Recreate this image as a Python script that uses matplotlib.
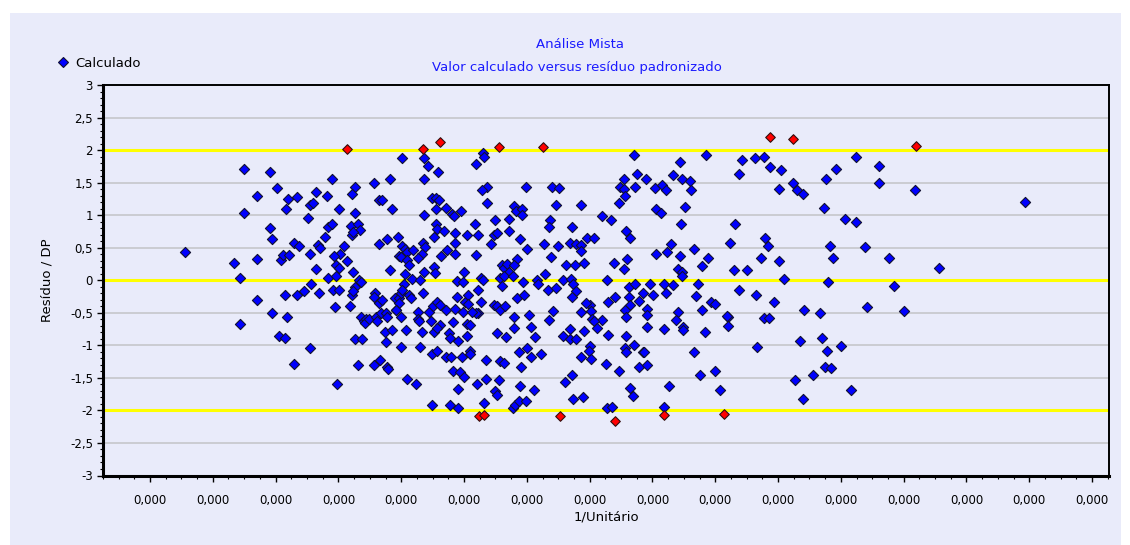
import numpy as np
import matplotlib
matplotlib.use("Agg")
import matplotlib.pyplot as plt
from matplotlib.lines import Line2D
from matplotlib.patches import Rectangle
from matplotlib.ticker import MultipleLocator, FuncFormatter

# 1/Unitário em unidades de 1e-5, resíduo padronizado
UNIDADE = 1e-5

pontos_a = [
    (1.56, 0.43), (2.34, 0.26), (2.44, 0.04), (2.44, -0.67), (2.49, 1.03), (2.50, 1.71),
    (2.70, 1.30), (2.70, 0.33), (2.70, -0.31), (2.91, 1.66), (2.91, 0.80), (2.95, 0.63),
    (2.95, -0.50), (3.02, 1.42), (3.06, -0.86), (3.09, 0.31), (3.11, 0.39), (3.15, -0.22),
    (3.15, -0.89), (3.17, 1.09), (3.18, -0.56), (3.19, 1.25), (3.21, 0.39), (3.30, 0.58),
    (3.30, -1.28), (3.34, 1.28), (3.34, -0.22), (3.37, 0.53), (3.45, -0.17), (3.51, 0.95),
    (3.54, -1.04), (3.55, 1.15), (3.55, 0.41), (3.56, -0.05), (3.60, 1.18), (3.64, 1.35),
    (3.64, 0.17), (3.68, 0.54), (3.69, -0.20), (3.71, 0.50), (3.79, 0.67), (3.82, 1.30),
    (3.84, 0.82), (3.84, 0.04),
]

pontos_b_sup = [
    (4.13, 2.02), (5.34, 2.01), (5.62, 2.12), (6.56, 2.05), (7.25, 2.05),
    (5.02, 1.88), (5.37, 1.88), (5.42, 1.76), (5.59, 1.66), (6.30, 1.96), (6.32, 1.90),
    (6.19, 1.78), (3.90, 1.55), (4.56, 1.49), (4.82, 1.55), (5.36, 1.55), (4.26, 1.44),
    (4.22, 1.32), (4.65, 1.24), (4.70, 1.24), (5.49, 1.26), (5.55, 1.26), (5.60, 1.23),
    (6.36, 1.44), (6.29, 1.38), (6.99, 1.44), (7.40, 1.44), (7.51, 1.42), (4.01, 1.09),
    (4.26, 1.04), (4.86, 1.09), (5.36, 1.01), (5.55, 1.09), (5.71, 1.11), (5.81, 1.02),
    (5.84, 0.98), (5.96, 1.06), (6.37, 1.19), (6.80, 1.14), (6.82, 1.06), (6.93, 1.10),
    (6.93, 1.00), (7.47, 1.15), (3.90, 0.87), (4.20, 0.84), (4.31, 0.87), (4.35, 0.77),
    (4.22, 0.70), (4.24, 0.74), (5.55, 0.86), (5.57, 0.78), (5.68, 0.75), (5.86, 0.72),
    (6.04, 0.70), (6.22, 0.70), (6.17, 0.87), (6.50, 0.92), (6.71, 0.94), (6.72, 0.75),
    (6.48, 0.70), (6.52, 0.73), (6.89, 0.63), (7.37, 0.92), (7.35, 0.82), (4.09, 0.53),
    (4.65, 0.56), (4.78, 0.63), (4.95, 0.66), (5.01, 0.52), (5.06, 0.48), (5.09, 0.43),
    (4.96, 0.37), (5.00, 0.36), (5.10, 0.31), (5.13, 0.24), (5.19, 0.47), (5.34, 0.58),
    (5.38, 0.51), (5.33, 0.41), (5.27, 0.34), (5.53, 0.66), (5.86, 0.58), (5.73, 0.46),
    (5.64, 0.37), (5.86, 0.41), (6.19, 0.39), (6.43, 0.56), (7.00, 0.48), (7.27, 0.56),
    (7.49, 0.53), (7.68, 0.58), (7.38, 0.36), (6.84, 0.32), (6.61, 0.23), (6.64, 0.19),
    (6.68, 0.25), (6.71, 0.13), (6.80, 0.23), (7.63, 0.24), (4.03, 0.41), (3.93, 0.37),
    (4.14, 0.29), (3.96, 0.24), (4.01, 0.19), (4.23, 0.13), (4.82, 0.15), (5.06, 0.09),
    (5.37, 0.13), (5.52, 0.20), (5.54, 0.11), (6.00, 0.13), (7.29, 0.10),
]

pontos_b_inf = [
    (3.96, 0.07), (3.91, -0.15), (4.01, -0.15), (3.95, -0.41), (4.18, -0.40), (4.27, -0.11),
    (4.22, -0.22), (4.24, -0.16), (4.33, 0.01), (4.36, -0.02), (4.58, -0.20), (4.57, -0.26),
    (4.65, -0.35), (4.70, -0.30), (4.90, -0.27), (4.97, -0.28), (5.00, -0.20), (4.97, -0.35),
    (4.92, -0.45), (5.04, -0.05), (5.01, -0.15), (5.17, 0.02), (5.30, 0.00), (5.35, -0.20),
    (5.12, -0.23), (5.16, -0.27), (4.36, -0.57), (4.40, -0.63), (4.44, -0.59), (4.42, -0.66),
    (4.49, -0.59), (4.60, -0.57), (4.62, -0.62), (4.68, -0.51), (4.76, -0.50), (4.77, -0.57),
    (4.74, -0.80), (4.85, -0.76), (5.07, -0.77), (4.27, -0.91), (4.38, -0.91), (4.76, -0.95),
    (4.99, -1.02), (4.91, -0.46), (5.00, -0.56), (5.26, -0.49), (5.26, -0.59), (5.29, -0.62),
    (5.33, -0.80), (5.30, -1.02), (5.45, -0.49), (5.47, -0.62), (5.51, -0.39), (5.57, -0.34),
    (5.61, -0.38), (5.52, -0.79), (5.62, -0.69), (5.57, -0.74), (5.71, -0.45), (5.83, -0.64),
    (5.76, -0.81), (5.78, -0.89), (5.90, -0.94), (5.89, -0.26), (5.86, -0.44), (5.99, -0.49),
    (6.01, -0.34), (6.06, -0.22), (6.07, -0.36), (6.04, -0.67), (6.10, -0.69), (6.04, -0.86),
    (5.89, -0.01), (5.99, -0.03), (6.22, -0.15), (6.27, -0.34), (6.23, -0.50), (6.19, -0.50),
    (6.12, -0.49), (6.27, 0.04), (6.31, 0.00), (6.58, 0.04), (6.61, -0.09), (6.64, 0.06),
    (6.78, 0.07), (6.47, -0.38), (6.52, -0.40), (6.57, -0.45), (6.65, -0.39), (6.52, -0.81),
    (6.67, -0.87), (6.80, -0.56), (6.84, -0.27), (6.96, -0.22), (6.94, -0.03), (6.80, -0.74),
    (7.04, -0.53), (7.07, -0.72), (7.13, -0.87), (7.16, 0.01), (7.18, -0.06), (7.34, -0.15),
    (7.47, -0.12), (7.36, -0.61), (7.42, -0.48), (7.57, 0.01), (7.57, -0.86), (5.49, -1.13),
    (5.57, -1.08), (5.72, -1.18), (5.79, -1.18), (5.97, -1.18), (6.10, -1.09), (6.10, -1.14),
    (6.35, -1.22), (6.57, -1.24), (6.63, -1.27), (6.88, -1.10), (7.00, -1.04), (7.06, -1.18),
    (7.23, -1.13), (4.31, -1.30), (4.57, -1.30), (4.67, -1.23), (4.78, -1.34), (4.79, -1.37),
    (6.90, -1.34), (5.83, -1.39), (5.94, -1.41), (6.00, -1.49), (6.35, -1.51), (6.56, -1.54),
    (5.10, -1.51), (5.24, -1.59), (3.98, -1.59), (6.20, -1.59), (5.90, -1.67), (6.89, -1.62),
    (7.11, -1.68), (6.50, -1.70), (6.52, -1.76), (7.61, -1.57), (5.49, -1.92), (5.78, -1.91),
    (5.90, -1.97), (6.32, -1.88), (6.78, -1.97), (6.81, -1.92), (6.87, -1.86), (6.98, -1.86),
    (6.24, -2.09), (6.32, -2.07), (7.53, -2.09),
]

pontos_c_sup = [
    (10.87, 2.20), (11.24, 2.17), (8.71, 1.93), (9.85, 1.93), (9.44, 1.81), (10.43, 1.84),
    (10.38, 1.64), (10.64, 1.88), (10.77, 1.90), (10.87, 1.74), (11.05, 1.69), (11.24, 1.50),
    (11.31, 1.38), (11.01, 1.40), (8.75, 1.64), (8.90, 1.55), (8.54, 1.55), (8.48, 1.44),
    (8.54, 1.40), (8.57, 1.30), (8.73, 1.44), (8.47, 1.18), (9.04, 1.42), (9.15, 1.47),
    (9.21, 1.38), (9.33, 1.62), (9.47, 1.55), (9.60, 1.52), (9.61, 1.38), (9.52, 1.13),
    (9.05, 1.09), (9.14, 1.03), (7.87, 1.15), (8.19, 0.99), (8.34, 0.92), (7.72, 0.82),
    (9.45, 0.87), (10.32, 0.87), (8.58, 0.75), (8.64, 0.65), (7.96, 0.65), (8.07, 0.65),
    (7.78, 0.56), (7.87, 0.54), (7.87, 0.45), (9.29, 0.56), (9.67, 0.48), (10.24, 0.58),
    (10.79, 0.65), (10.84, 0.53), (9.05, 0.41), (9.23, 0.43), (9.44, 0.37), (9.89, 0.34),
    (10.73, 0.34), (11.01, 0.29), (7.76, 0.24), (7.91, 0.27), (8.39, 0.27), (8.60, 0.32),
    (8.54, 0.17), (9.41, 0.18), (9.47, 0.13), (9.79, 0.22), (10.30, 0.15), (10.50, 0.15),
]

pontos_c_inf = [
    (7.71, 0.02), (7.74, -0.06), (7.78, -0.17), (7.72, -0.26), (8.28, 0.00), (8.63, -0.11),
    (8.73, -0.05), (8.63, -0.26), (8.65, -0.38), (8.56, -0.45), (8.58, -0.56), (8.96, -0.05),
    (8.85, -0.20), (9.01, -0.22), (8.78, -0.32), (9.18, -0.05), (9.21, -0.20), (9.33, -0.07),
    (9.47, 0.07), (9.72, -0.05), (9.69, -0.24), (9.94, -0.34), (10.00, -0.36), (10.38, -0.15),
    (10.65, -0.22), (10.93, -0.34), (11.10, 0.02), (7.86, -0.49), (8.00, -0.38), (8.03, -0.48),
    (7.95, -0.35), (8.04, -0.59), (8.20, -0.61), (8.07, -0.62), (8.11, -0.73), (8.30, -0.34),
    (8.41, -0.26), (8.91, -0.44), (8.91, -0.54), (8.92, -0.72), (9.40, -0.49), (9.38, -0.61),
    (9.48, -0.72), (9.49, -0.77), (9.79, -0.46), (10.21, -0.56), (10.18, -0.55), (10.21, -0.70),
    (10.77, -0.58), (10.86, -0.58), (7.69, -0.75), (7.69, -0.91), (7.78, -0.91), (7.91, -0.78),
    (8.29, -0.84), (8.58, -0.86), (8.71, -0.99), (8.57, -1.04), (8.58, -1.10), (8.85, -1.10),
    (8.87, -1.10), (9.18, -0.75), (9.84, -0.80), (8.01, -1.01), (7.99, -1.08), (7.86, -1.18),
    (8.03, -1.21), (8.26, -1.28), (8.47, -1.40), (8.78, -1.33), (8.91, -1.30), (9.66, -1.11),
    (10.66, -1.02), (7.72, -1.45), (8.64, -1.66), (8.69, -1.78), (9.27, -1.62), (9.75, -1.45),
    (10.00, -1.40), (10.08, -1.69), (11.27, -1.54), (7.74, -1.83), (7.89, -1.80), (8.28, -1.96),
    (8.35, -1.95), (9.18, -1.95), (8.41, -2.17), (9.18, -2.07), (10.14, -2.05),
]

pontos_d = [
    (13.19, 2.07), (12.24, 1.90), (11.93, 1.71), (12.61, 1.76), (11.76, 1.55), (11.39, 1.32),
    (12.61, 1.49), (13.18, 1.38), (14.93, 1.20), (11.74, 1.11), (12.06, 0.94), (12.24, 0.89),
    (11.82, 0.53), (11.88, 0.34), (12.39, 0.51), (12.76, 0.34), (13.56, 0.19), (11.80, -0.03),
    (12.85, -0.09), (11.41, -0.46), (11.67, -0.50), (12.42, -0.41), (13.01, -0.48), (11.35, -0.94),
    (11.70, -0.89), (11.78, -1.08), (12.01, -1.01), (11.75, -1.33), (11.84, -1.35), (11.55, -1.45),
    (12.17, -1.68), (11.39, -1.83),
]

limites = [-2, 0, 2]

todos = np.array(pontos_a + pontos_b_sup + pontos_b_inf + pontos_c_sup + pontos_c_inf + pontos_d)
x = todos[:, 0] * UNIDADE
y = todos[:, 1]
fora = np.abs(y) > 2

fundo = '#E9EBFA'
azul = '#0000FF'
fig = plt.figure(figsize=(11.3, 5.45), dpi=100, facecolor='white')
fig.patches.append(Rectangle((10 / 1130, 0), 1111 / 1130, 532 / 545, transform=fig.transFigure,
                             facecolor=fundo, edgecolor='none', zorder=-10))

ax = fig.add_axes([102.7 / 1130, 69.5 / 545, 1006.6 / 1130, 390.5 / 545])
ax.set_zorder(5)
ax.set_facecolor(fundo)

# grade cinza a cada 0,5 e linhas amarelas em -2, 0, 2
for v in np.arange(-2.5, 3.0, 0.5):
    if v in limites:
        continue
    ax.axhline(v, color='#C6C6CA', lw=1.2, zorder=1)
for v in limites:
    ax.axhline(v, color='#FFFF00', lw=2.2, zorder=2)

ax.scatter(x[~fora], y[~fora], marker='D', s=27, c=azul, edgecolors='#101030',
           linewidths=0.8, zorder=3)
ax.scatter(x[fora], y[fora], marker='D', s=24, c='#FF0000', edgecolors='#301010',
           linewidths=0.8, zorder=3)

ax.set_xlim(0.247 * UNIDADE, 16.275 * UNIDADE)
ax.set_ylim(-3, 3)
ax.xaxis.set_major_locator(MultipleLocator(UNIDADE))
ax.xaxis.set_minor_locator(MultipleLocator(UNIDADE / 4))
ax.xaxis.set_major_formatter(FuncFormatter(lambda v, p: f'{v:.3f}'.replace('.', ',')))
ax.yaxis.set_major_locator(MultipleLocator(0.5))
ax.yaxis.set_minor_locator(MultipleLocator(0.1))
ax.yaxis.set_major_formatter(FuncFormatter(lambda v, p: f'{v:g}'.replace('.', ',')))

ax.tick_params(axis='both', which='major', length=4, width=1, labelsize=8.5, colors='black', pad=3)
ax.tick_params(axis='both', which='minor', length=2, width=0.8)
ax.tick_params(axis='x', which='major', pad=9)

for s in ['left', 'bottom']:
    ax.spines[s].set_linewidth(2.2)
for s in ['top', 'right']:
    ax.spines[s].set_linewidth(1.4)

ax.set_xlabel('1/Unitário', fontsize=9.5, labelpad=3)
ax.set_ylabel('Resíduo / DP', fontsize=9.5, labelpad=12)

fig.text(580 / 1130, 1 - 45 / 545, 'Análise Mista', ha='center', va='center',
         fontsize=9.5, color='#1A1AFF')
fig.text(577 / 1130, 1 - 68 / 545, 'Valor calculado versus resíduo padronizado',
         ha='center', va='center', fontsize=9.5, color='#1A1AFF')

marca = Line2D([], [], marker='D', ls='', markersize=5, markerfacecolor=azul,
               markeredgecolor='#101030', markeredgewidth=0.8)
fig.legend([marca], ['Calculado'], loc='center left', bbox_to_anchor=(50 / 1130, 1 - 63 / 545),
           frameon=False, fontsize=9.5, handlelength=1.0, handletextpad=0.4, borderpad=0)

fig.savefig('out.png', dpi=100, facecolor='white')
